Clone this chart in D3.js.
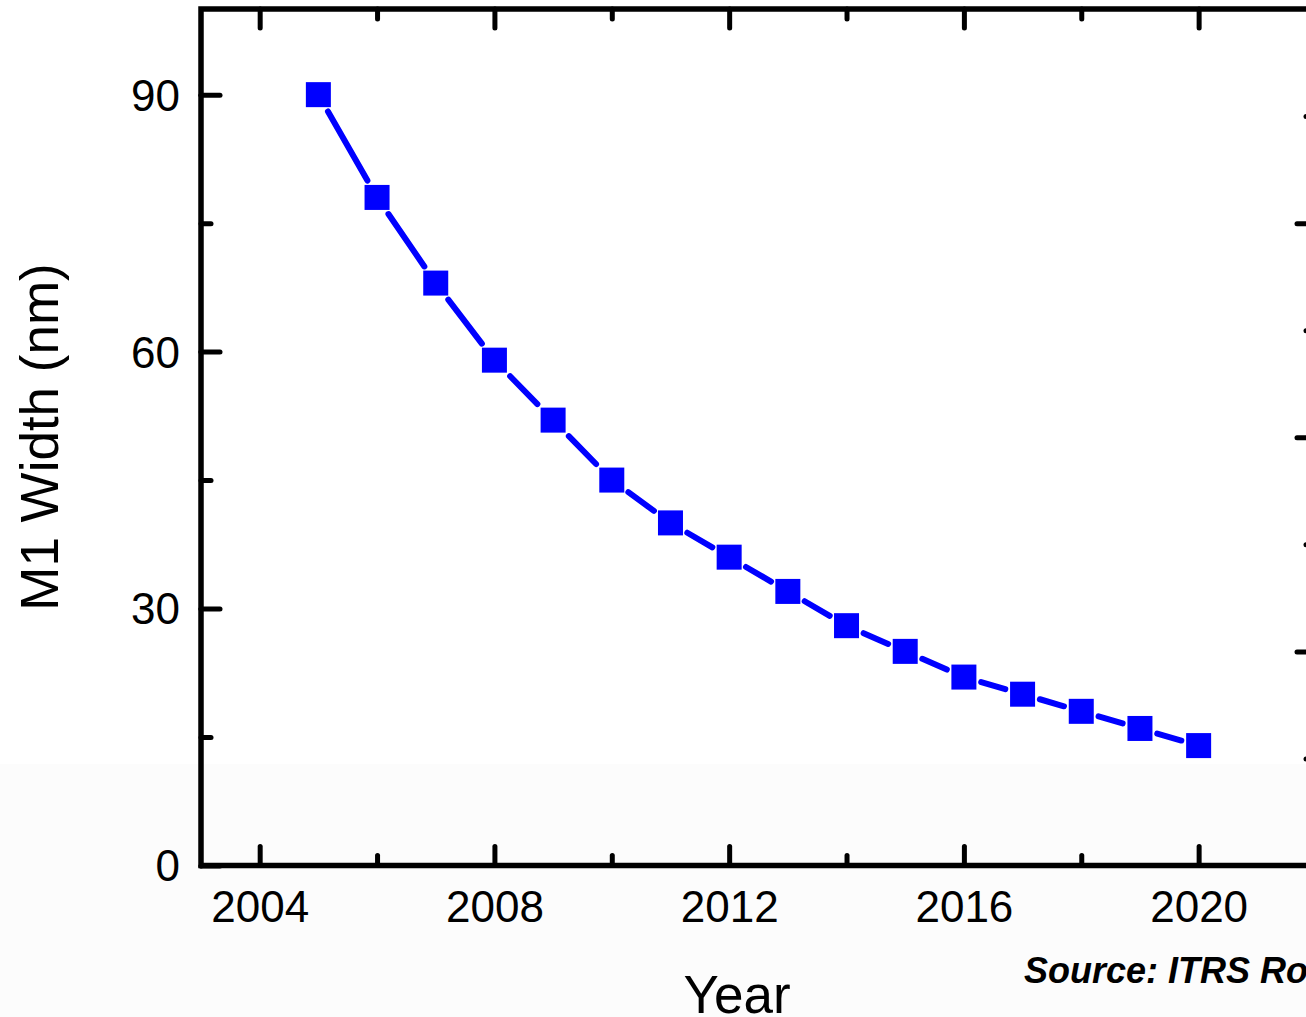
<!DOCTYPE html>
<html>
<head>
<meta charset="utf-8">
<script src="https://cdn.jsdelivr.net/npm/d3@7/dist/d3.min.js"></script>
<style>
  html, body { margin: 0; padding: 0; background: #ffffff; overflow: hidden; }
  svg { display: block; font-family: "Liberation Sans", Arial, sans-serif; }
</style>
</head>
<body>
<svg id="chart" width="1306" height="1017"></svg>
<script>
// ITRS roadmap: first-metal (M1) line width by year
const years = [2005, 2006, 2007, 2008, 2009, 2010, 2011, 2012, 2013, 2014, 2015, 2016, 2017, 2018, 2019, 2020];
const m1Width = [90, 78, 68, 59, 52, 45, 40, 36, 32, 28, 25, 22, 20, 18, 16, 14];

const xMajorTicks = [2004, 2008, 2012, 2016, 2020];
const xMinorTicks = [2006, 2010, 2014, 2018, 2022];
const yMajorTicks = [0, 30, 60, 90];
const yMinorTicks = [15, 45, 75];
const rightMajorTicks = [1, 2, 3];
const rightMinorTicks = [0.5, 1.5, 2.5, 3.5];

const xTitle = "Year";
const yTitle = "M1 Width (nm)";
const sourceNote = "Source: ITRS Roadmap";

const svg = d3.select("#chart");
const W = 1306, H = 1017;

const plotLeft = 201, plotRight = 1316, plotTop = 9, plotBottom = 865.5;

const x = d3.scaleLinear().domain([2003, 2022]).range([plotLeft, plotRight]);
const y = d3.scaleLinear().domain([0, 100]).range([plotBottom, plotTop]);
const yRight = d3.scaleLinear().domain([0, 4]).range([plotBottom, plotTop]);

// faint lower band of the page background
svg.append("rect").attr("x", 0).attr("y", 764).attr("width", W).attr("height", H - 764)
  .attr("fill", "#fcfcfc");

const majorLen = 19, minorLen = 10;
const axisStroke = 5.5, tickStroke = 5;

function styleAxis(g, showLabels) {
  g.select(".domain").remove();
  g.selectAll(".tick line").attr("stroke", "#000").attr("stroke-width", tickStroke).attr("stroke-linecap", "round");
  if (!showLabels) g.selectAll(".tick text").remove();
  else g.selectAll(".tick text").attr("fill", "#000").attr("font-size", 44);
}

// bottom axis
svg.append("g").attr("transform", `translate(0,${plotBottom})`)
  .call(d3.axisTop(x).tickValues(xMajorTicks).tickSize(majorLen).tickFormat(""))
  .call(g => styleAxis(g, false));
svg.append("g").attr("transform", `translate(0,${plotBottom})`)
  .call(d3.axisTop(x).tickValues(xMinorTicks).tickSize(minorLen).tickFormat(""))
  .call(g => styleAxis(g, false));
svg.append("g").attr("transform", `translate(0,${plotBottom})`)
  .call(d3.axisBottom(x).tickValues(xMajorTicks).tickSize(0).tickPadding(0).tickFormat(d3.format("d")))
  .call(g => styleAxis(g, true))
  .call(g => g.selectAll(".tick text").attr("dy", null).attr("y", 56.5));

// top axis
svg.append("g").attr("transform", `translate(0,${plotTop})`)
  .call(d3.axisBottom(x).tickValues(xMajorTicks).tickSize(majorLen).tickFormat(""))
  .call(g => styleAxis(g, false));
svg.append("g").attr("transform", `translate(0,${plotTop})`)
  .call(d3.axisBottom(x).tickValues(xMinorTicks).tickSize(minorLen).tickFormat(""))
  .call(g => styleAxis(g, false));

// left axis
svg.append("g").attr("transform", `translate(${plotLeft},0)`)
  .call(d3.axisRight(y).tickValues(yMajorTicks).tickSize(majorLen).tickFormat(""))
  .call(g => styleAxis(g, false));
svg.append("g").attr("transform", `translate(${plotLeft},0)`)
  .call(d3.axisRight(y).tickValues(yMinorTicks).tickSize(minorLen).tickFormat(""))
  .call(g => styleAxis(g, false));
svg.append("g").attr("transform", `translate(${plotLeft},0)`)
  .call(d3.axisLeft(y).tickValues(yMajorTicks).tickSize(0).tickPadding(21).tickFormat(d3.format("d")))
  .call(g => styleAxis(g, true))
  .call(g => g.selectAll(".tick text").attr("dy", "0.35em"));

// right axis (ticks only)
svg.append("g").attr("transform", `translate(${plotRight},0)`)
  .call(d3.axisLeft(yRight).tickValues(rightMajorTicks).tickSize(majorLen).tickFormat(""))
  .call(g => styleAxis(g, false));
svg.append("g").attr("transform", `translate(${plotRight},0)`)
  .call(d3.axisLeft(yRight).tickValues(rightMinorTicks).tickSize(minorLen).tickFormat(""))
  .call(g => styleAxis(g, false));

// frame
svg.append("rect")
  .attr("x", plotLeft).attr("y", plotTop)
  .attr("width", plotRight - plotLeft).attr("height", plotBottom - plotTop)
  .attr("fill", "none").attr("stroke", "#000").attr("stroke-width", axisStroke);

// data
const pts = years.map((yr, i) => ({ px: x(yr), py: y(m1Width[i]) }));
const half = 12.5, gap = 5;

// connecting segments stop short of each square marker
const segs = d3.pairs(pts).map(([a, b]) => {
  const dx = b.px - a.px, dy = b.py - a.py;
  const len = Math.hypot(dx, dy);
  const ux = dx / len, uy = dy / len;
  const edge = half / Math.max(Math.abs(ux), Math.abs(uy)) + gap;
  return {
    x1: a.px + ux * edge, y1: a.py + uy * edge,
    x2: b.px - ux * edge, y2: b.py - uy * edge
  };
});

svg.append("g").selectAll("line").data(segs).join("line")
  .attr("x1", d => d.x1).attr("y1", d => d.y1)
  .attr("x2", d => d.x2).attr("y2", d => d.y2)
  .attr("stroke", "#0000ff").attr("stroke-width", 6).attr("stroke-linecap", "round");

svg.append("g").selectAll("rect").data(pts).join("rect")
  .attr("x", d => d.px - half).attr("y", d => d.py - half)
  .attr("width", half * 2).attr("height", half * 2)
  .attr("fill", "#0000ff");

// titles
svg.append("text")
  .attr("x", 737).attr("y", 1013)
  .attr("text-anchor", "middle").attr("font-size", 53).attr("fill", "#000")
  .text(xTitle);

svg.append("text")
  .attr("transform", "translate(58,437) rotate(-90)")
  .attr("text-anchor", "middle").attr("font-size", 53).attr("fill", "#000")
  .text(yTitle);

svg.append("text")
  .attr("x", 1024).attr("y", 983)
  .attr("font-size", 36).attr("font-weight", "bold").attr("font-style", "italic").attr("fill", "#000")
  .text(sourceNote);
</script>
</body>
</html>
